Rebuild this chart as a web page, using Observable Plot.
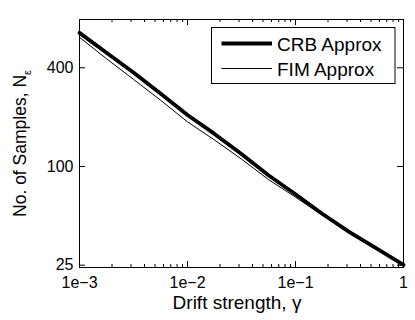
<!DOCTYPE html>
<html><head><meta charset="utf-8">
<script src="https://cdn.jsdelivr.net/npm/d3@7"></script>
<script src="https://cdn.jsdelivr.net/npm/@observablehq/plot@0.6"></script>
<style>body{margin:0;background:#fff} #chart svg{display:block}</style>
</head><body><div id="chart"></div>
<script>
// Data
const gamma = [0.001, 0.00178, 0.00316, 0.00562, 0.01, 0.0178, 0.0316, 0.0562, 0.1, 0.178, 0.316, 0.562, 1];
const crb = [653, 494, 374, 279, 206, 158, 119, 88.5, 67.7, 51.3, 39.8, 31.7, 25.1];
const fim = [614, 454, 340, 254, 187, 145, 111, 83.2, 65.0, 50.3, 39.8, 31.6, 25.0];
const seriesNames = ["CRB Approx", "FIM Approx"];
const xTicks = [0.001, 0.01, 0.1, 1];
const xTickLabels = ["1e\u22123", "1e\u22122", "1e\u22121", "1"];
const xMinor = [0.002, 0.003, 0.004, 0.005, 0.006, 0.007, 0.008, 0.009,
                0.02, 0.03, 0.04, 0.05, 0.06, 0.07, 0.08, 0.09,
                0.2, 0.3, 0.4, 0.5, 0.6, 0.7, 0.8, 0.9];
const yTicks = [25, 100, 400];
const xLabel = "Drift strength, \u03B3";
const yLabel = "No. of Samples, N";
const yLabelSub = "\u03B5";

const W = 415, H = 320, mt = 19, mb = 53, ml = 79, mr = 12;
const ih = H - mt - mb, iw = W - ml - mr;
const rows = gamma.map((g, i) => ({g, crb: crb[i], fim: fim[i]}));
const font = "'Liberation Sans', Arial, Helvetica, sans-serif";

const plot = Plot.plot({
  width: W, height: H,
  marginTop: mt, marginBottom: mb, marginLeft: ml, marginRight: mr,
  style: {fontFamily: font, fontSize: "16px", color: "#000", background: "#fff", overflow: "visible"},
  x: {type: "log", domain: [0.001, 1]},
  y: {type: "log", domain: [24.2, 788]},
  marks: [
    Plot.lineY(rows, {x: "g", y: "fim", stroke: "#000", strokeWidth: 1}),
    Plot.lineY(rows, {x: "g", y: "crb", stroke: "#000", strokeWidth: 3.8}),
    Plot.tickX(xTicks, {x: d => d, insetTop: ih - 6, stroke: "#000"}),
    Plot.tickX(xTicks, {x: d => d, insetBottom: ih - 6, stroke: "#000"}),
    Plot.tickX(xMinor, {x: d => d, insetTop: ih - 3, stroke: "#000"}),
    Plot.tickX(xMinor, {x: d => d, insetBottom: ih - 3, stroke: "#000"}),
    Plot.tickY(yTicks, {y: d => d, insetRight: iw - 6, stroke: "#000"}),
    Plot.tickY(yTicks, {y: d => d, insetLeft: iw - 6, stroke: "#000"}),
    Plot.axisX(xTicks, {tickSize: 0, tickPadding: 9, tickFormat: d => xTickLabels[xTicks.indexOf(d)], label: null, fontSize: 16}),
    Plot.axisY(yTicks, {tickSize: 0, tickPadding: 6, tickFormat: d => String(d), label: null, fontSize: 16}),
    Plot.frame({stroke: "#000", strokeWidth: 1})
  ]
});
document.getElementById("chart").append(plot);

const svg = d3.select(plot);
// axis labels
svg.append("text")
  .attr("x", 237).attr("y", 309)
  .attr("text-anchor", "middle")
  .attr("font-family", font).attr("font-size", 19).attr("fill", "#000")
  .text(xLabel);
const yl = svg.append("text")
  .attr("transform", "translate(26,143.5) rotate(-90)")
  .attr("text-anchor", "middle")
  .attr("font-family", font).attr("font-size", 17.5).attr("fill", "#000");
yl.append("tspan").text(yLabel);
yl.append("tspan").attr("dy", 5).attr("font-size", 11).text(yLabelSub);

// legend
const lg = svg.append("g");
lg.append("rect").attr("x", 211.5).attr("y", 27.5).attr("width", 183.5).attr("height", 56)
  .attr("fill", "#fff").attr("stroke", "#000").attr("stroke-width", 1);
const widths = [3.8, 1];
seriesNames.forEach((name, i) => {
  const cy = 43.5 + i * 25;
  lg.append("line").attr("x1", 221.5).attr("x2", 272).attr("y1", cy).attr("y2", cy)
    .attr("stroke", "#000").attr("stroke-width", widths[i]);
  lg.append("text").attr("x", 277).attr("y", cy + 7)
    .attr("text-anchor", "start")
    .attr("font-family", font).attr("font-size", 19).attr("fill", "#000").text(name);
});
</script>
</body></html>
